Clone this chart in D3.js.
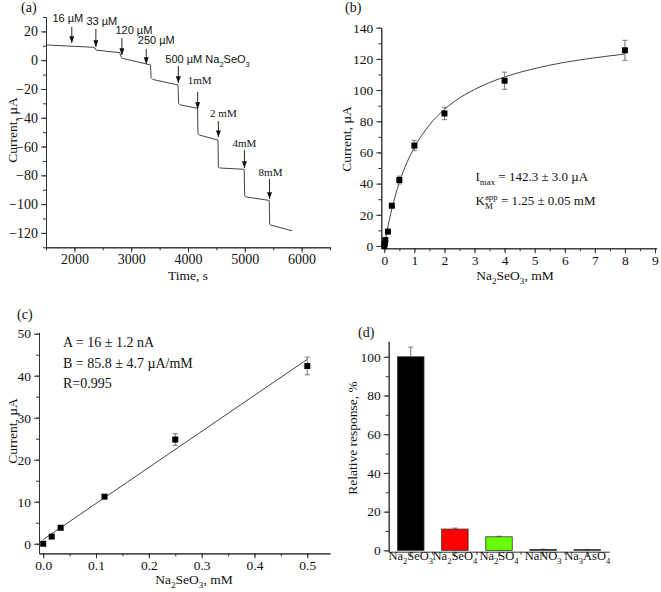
<!DOCTYPE html>
<html>
<head>
<meta charset="utf-8">
<script src="https://cdn.jsdelivr.net/npm/d3@7"></script>
<style>
    body { margin: 0; background: #fff; }
    svg text { font-family: "Liberation Serif", "Times New Roman", serif; fill: #111; }
    .axis path, .axis line { stroke: #333; stroke-width: 1; }
    .sans { font-family: "Liberation Sans", Arial, sans-serif !important; }
</style>
</head>
<body>
<div id="chart"></div>
<script>
// (a) amperometric response
var timeA = [1500, 2320, 2365, 2380, 2800, 2815, 2840, 3340, 3350, 3380, 3825, 3835, 3860,
    4168, 4176, 4200, 4528, 4535, 4560, 4990, 4998, 5020, 5430, 5438, 5460, 5830];
var currentA = [10.6, 9.0, 8.3, 7.0, 5.2, 3.0, 1.3, -3.3, -12.2, -13.4, -17.2, -30.0, -31.0,
    -33.4, -50.8, -52.0, -55.5, -74.4, -74.9, -75.8, -94.2, -95.0, -97.4, -114.0, -114.6, -118.5];
var arrowTime = [1954, 2378, 2836, 3265, 3830, 4170, 4535, 4994, 5435];
var arrowFrom = [23.1, 21.7, 15.4, 7.8, -4.0, -22.1, -42.3, -62.4, -82.5];
var arrowTo = [12.0, 9.2, 3.6, -2.6, -15.8, -33.9, -53.4, -74.9, -96.4];
var arrowLabels = ["16 µM", "33 µM", "120 µM", "250 µM", "500 µM Na_{2}SeO_{3}", "1mM", "2 mM", "4mM", "8mM"];

// (b) calibration curve
var concB = [0, 0.016, 0.033, 0.12, 0.25, 0.5, 1, 2, 4, 8];
var currentB = [0, 1.6, 3.8, 9.2, 25.8, 42.3, 64.4, 85, 106, 125.5];
var errB = [0.5, 0.5, 0.6, 0.8, 1.0, 2.5, 3.3, 4.0, 5.5, 6.4];
var fitConcB = [0, 0.1, 0.25, 0.5, 0.75, 1, 1.5, 2, 2.5, 3, 4, 5, 6, 7, 8];
var fitCurrentB = [0, 10.5, 23.7, 40.7, 53.4, 63.2, 77.6, 87.6, 94.9, 100.4, 108.4, 113.8, 117.8, 120.7, 123.1];

// (c) linear range
var concC = [0, 0.016, 0.033, 0.116, 0.25, 0.5];
var currentC = [0, 1.7, 3.8, 11.2, 24.8, 42.3];
var errC = [0.3, 0.3, 0.3, 0.4, 1.4, 2.1];
var fitConcC = [0, 0.5];
var fitCurrentC = [1.0, 43.9];

// (d) selectivity
var compounds = ["Na2SeO3", "Na2SeO4", "Na2SO4", "NaNO3", "Na3AsO4"];
var responseD = [100, 11, 7, 0.5, 0.4];
var errD = [5, 0.5, 0.3, 0.1, 0.1];
var barColors = ["#000000", "#ff0000", "#66ff00", "#1a1f80", "#2e8b57"];

var svg = d3.select("#chart").append("svg")
    .attr("width", 661)
    .attr("height", 592);

// text with _{sub} and ^{sup} parts
function rich(text, str, small) {
    var re = /([_^])\{([^}]*)\}/g, last = 0, m, shift = 0, prev = null, prevSub = false;
    while ((m = re.exec(str)) !== null) {
        if (m.index > last) {
            text.append("tspan").attr("dy", -shift).text(str.slice(last, m.index));
            shift = 0; prevSub = false;
        }
        var d = m[1] === "_" ? 4 : -5;
        var t = text.append("tspan").attr("dy", d - shift).style("font-size", small + "px").text(m[2]);
        if (m[1] === "^" && prevSub && prev) t.attr("dx", -prev.node().getComputedTextLength());
        prevSub = m[1] === "_";
        prev = t;
        shift = d; last = re.lastIndex;
    }
    if (last < str.length) text.append("tspan").attr("dy", -shift).text(str.slice(last));
}

function chem(name) {
    return name.replace(/(\d)/g, "_{$1}");
}

function drawAxes(g, x, y, xMajor, xMinor, yMajor, yMinor, xFmt, fontSize) {
    var yPos = y.range()[0], xPos = x.range()[0];
    g.append("g").attr("class", "axis")
        .attr("transform", "translate(0," + yPos + ")")
        .call(d3.axisBottom(x).tickValues(xMinor).tickSize(3).tickSizeOuter(0).tickFormat(""));
    g.append("g").attr("class", "axis")
        .attr("transform", "translate(0," + yPos + ")")
        .call(d3.axisBottom(x).tickValues(xMajor).tickSize(5).tickPadding(2).tickSizeOuter(0).tickFormat(xFmt))
        .selectAll("text").style("font-size", fontSize + "px").attr("fill", "#111");
    g.append("g").attr("class", "axis")
        .attr("transform", "translate(" + xPos + ",0)")
        .call(d3.axisLeft(y).tickValues(yMinor).tickSize(3).tickSizeOuter(0).tickFormat(""));
    g.append("g").attr("class", "axis")
        .attr("transform", "translate(" + xPos + ",0)")
        .call(d3.axisLeft(y).tickValues(yMajor).tickSize(5).tickSizeOuter(0).tickFormat(d3.format("d")))
        .selectAll("text").style("font-size", fontSize + "px").attr("fill", "#111");
    g.selectAll(".axis .domain").attr("stroke", "#333");
}

function label(x, y, str, size, anchor, rotate) {
    var t = svg.append("text")
        .attr("text-anchor", anchor || "start")
        .style("font-size", size + "px");
    if (rotate) t.attr("x", 0).attr("y", 0).attr("transform", "translate(" + x + "," + y + ") rotate(-90)");
    else t.attr("x", x).attr("y", y);
    rich(t, str, size * 0.68);
    return t;
}

// arrow head pointing along the line direction
svg.append("defs").append("marker")
    .attr("id", "arrow")
    .attr("viewBox", "0 0 8 6")
    .attr("refX", 8).attr("refY", 3)
    .attr("markerWidth", 7).attr("markerHeight", 5)
    .attr("markerUnits", "userSpaceOnUse")
    .attr("orient", "auto")
    .append("path")
    .attr("d", "M0,0 L8,3 L0,6 Z")
    .attr("fill", "#111");

// ---------- (a) ----------
var gA = svg.append("g");
var xA = d3.scaleLinear().domain([1500, 6500]).range([46, 330]);
var yA = d3.scaleLinear().domain([-130, 30]).range([247.3, 17]);
drawAxes(gA, xA, yA, d3.range(2000, 6001, 1000), d3.range(1500, 6501, 500),
    d3.range(-120, 21, 20), d3.range(-130, 31, 10), d3.format("d"), 14);

gA.append("path")
    .datum(d3.range(timeA.length))
    .attr("fill", "none")
    .attr("stroke", "#444")
    .attr("stroke-width", 1)
    .attr("d", d3.line().x(function(i) { return xA(timeA[i]); }).y(function(i) { return yA(currentA[i]); }));

var labelDx = [-4, 6, 12, 10, -13, 2, 5, 0, 1];
var labelDy = [-5, -4, -4, -5, -3, -8, -4, -3, -3];
arrowTime.forEach(function(t, i) {
    gA.append("line")
        .attr("x1", xA(t)).attr("x2", xA(t))
        .attr("y1", yA(arrowFrom[i])).attr("y2", yA(arrowTo[i]))
        .attr("stroke", "#111")
        .attr("stroke-width", 0.9)
        .attr("marker-end", "url(#arrow)");
    var txt = gA.append("text")
        .attr("x", xA(t) + labelDx[i])
        .attr("y", yA(arrowFrom[i]) + labelDy[i])
        .attr("text-anchor", i === 4 ? "start" : "middle")
        .style("font-size", "11px");
    if (i < 5) txt.attr("class", "sans");
    rich(txt, arrowLabels[i], 7.5);
});

label(21, 12, "(a)", 14);
label(188, 280, "Time, s", 13.5, "middle");
label(17, 130, "Current, µA", 13.5, "middle", true);

// ---------- (b) ----------
var gB = svg.append("g");
var xB = d3.scaleLinear().domain([-0.1, 9.05]).range([381.3, 656.5]);
var yB = d3.scaleLinear().domain([-1.5, 140]).range([248.3, 27.7]);
drawAxes(gB, xB, yB, d3.range(0, 10, 1), d3.range(0, 9.01, 0.5),
    d3.range(0, 141, 20), d3.range(0, 141, 10), d3.format("d"), 13.5);

gB.append("path")
    .datum(d3.range(fitConcB.length))
    .attr("fill", "none")
    .attr("stroke", "#444")
    .attr("stroke-width", 1)
    .attr("d", d3.line().curve(d3.curveMonotoneX)
        .x(function(i) { return xB(fitConcB[i]); }).y(function(i) { return yB(fitCurrentB[i]); }));

function errorBars(g, x, y, xs, ys, es, cap) {
    xs.forEach(function(v, i) {
        var cx = x(v), y0 = y(ys[i] - es[i]), y1 = y(ys[i] + es[i]);
        g.append("path")
            .attr("d", "M" + cx + "," + y0 + "V" + y1 + "M" + (cx - cap) + "," + y1 + "H" + (cx + cap) +
                "M" + (cx - cap) + "," + y0 + "H" + (cx + cap))
            .attr("stroke", "#777")
            .attr("stroke-width", 1)
            .attr("fill", "none");
    });
}

function squares(g, x, y, xs, ys) {
    g.selectAll(".pt").data(xs).enter().append("rect")
        .attr("class", "pt")
        .attr("x", function(d) { return x(d) - 3; })
        .attr("y", function(d, i) { return y(ys[i]) - 3; })
        .attr("width", 6).attr("height", 6)
        .attr("fill", "#000");
}

errorBars(gB, xB, yB, concB, currentB, errB, 2.5);
squares(gB, xB, yB, concB, currentB);

label(345, 12, "(b)", 14);
label(515, 280, "Na_{2}SeO_{3}, mM", 13.5, "middle");
label(351, 139, "Current, µA", 13.5, "middle", true);
label(475.5, 180.7, "I_{max} = 142.3 ± 3.0 µA", 13);
label(475.5, 205, "K_{M}^{app} = 1.25 ± 0.05 mM", 13);

// ---------- (c) ----------
var gC = svg.append("g");
var xC = d3.scaleLinear().domain([-0.008, 0.543]).range([39, 330]);
var yC = d3.scaleLinear().domain([-2.3, 50.3]).range([553.4, 332.4]);
drawAxes(gC, xC, yC, d3.range(0, 0.51, 0.1), d3.range(0, 0.541, 0.05),
    d3.range(0, 51, 10), d3.range(0, 51, 5), d3.format(".1f"), 13.5);

gC.append("line")
    .attr("x1", xC(fitConcC[0])).attr("y1", yC(fitCurrentC[0]))
    .attr("x2", xC(fitConcC[1])).attr("y2", yC(fitCurrentC[1]))
    .attr("stroke", "#444")
    .attr("stroke-width", 1);

errorBars(gC, xC, yC, concC, currentC, errC, 2.5);
squares(gC, xC, yC, concC, currentC);

label(17, 319, "(c)", 14);
label(194, 584, "Na_{2}SeO_{3}, mM", 13.5, "middle");
label(17, 431, "Current, µA", 13.5, "middle", true);
label(63, 346.7, "A = 16 ± 1.2 nA", 14);
label(63, 367.7, "B = 85.8 ± 4.7 µA/mM", 14);
label(63, 388, "R=0.995", 14);

// ---------- (d) ----------
var gD = svg.append("g");
var xD = d3.scaleBand().domain(compounds).range([388.7, 609.3]).paddingInner(0.4).paddingOuter(0.2);
var yD = d3.scaleLinear().domain([-0.7, 108]).range([551.7, 341.3]);

gD.append("g").attr("class", "axis")
    .attr("transform", "translate(388.7,0)")
    .call(d3.axisLeft(yD).tickValues(d3.range(0, 101, 10)).tickSize(3).tickSizeOuter(0).tickFormat(""));
gD.append("g").attr("class", "axis")
    .attr("transform", "translate(388.7,0)")
    .call(d3.axisLeft(yD).tickValues(d3.range(0, 101, 20)).tickSize(5).tickSizeOuter(0))
    .selectAll("text").style("font-size", "13.5px").attr("fill", "#111");

errorBars(gD, function(c) { return xD(c) + xD.bandwidth() / 2; }, yD, compounds, responseD, errD, 2.5);

gD.selectAll(".bar").data(compounds).enter().append("rect")
    .attr("class", "bar")
    .attr("x", function(d) { return xD(d); })
    .attr("y", function(d, i) { return yD(responseD[i]); })
    .attr("width", xD.bandwidth())
    .attr("height", function(d, i) { return yD(0) - yD(responseD[i]); })
    .attr("fill", function(d, i) { return barColors[i]; })
    .attr("stroke", "#333")
    .attr("stroke-width", 0.8);

// bottom axis: major ticks at bar centres, minor ticks between bars
var xAxisD = gD.append("g").attr("class", "axis")
    .attr("transform", "translate(0," + yD.range()[0] + ")")
    .call(d3.axisBottom(xD).tickSize(5).tickSizeOuter(0));
xAxisD.selectAll("text")
    .style("font-size", "12.5px")
    .attr("fill", "#111")
    .each(function(d) {
        var t = d3.select(this);
        t.text(null);
        rich(t, chem(d), 8.5);
    });
gD.selectAll(".minor").data(compounds.slice(1)).enter().append("line")
    .attr("class", "minor")
    .attr("x1", function(d) { return xD(d) - xD.step() * xD.paddingInner() / 2; })
    .attr("x2", function(d) { return xD(d) - xD.step() * xD.paddingInner() / 2; })
    .attr("y1", yD.range()[0])
    .attr("y2", yD.range()[0] + 3)
    .attr("stroke", "#333");

label(358, 337, "(d)", 14);
label(357, 438, "Relative response, %", 13.5, "middle", true);
</script>
</body>
</html>
